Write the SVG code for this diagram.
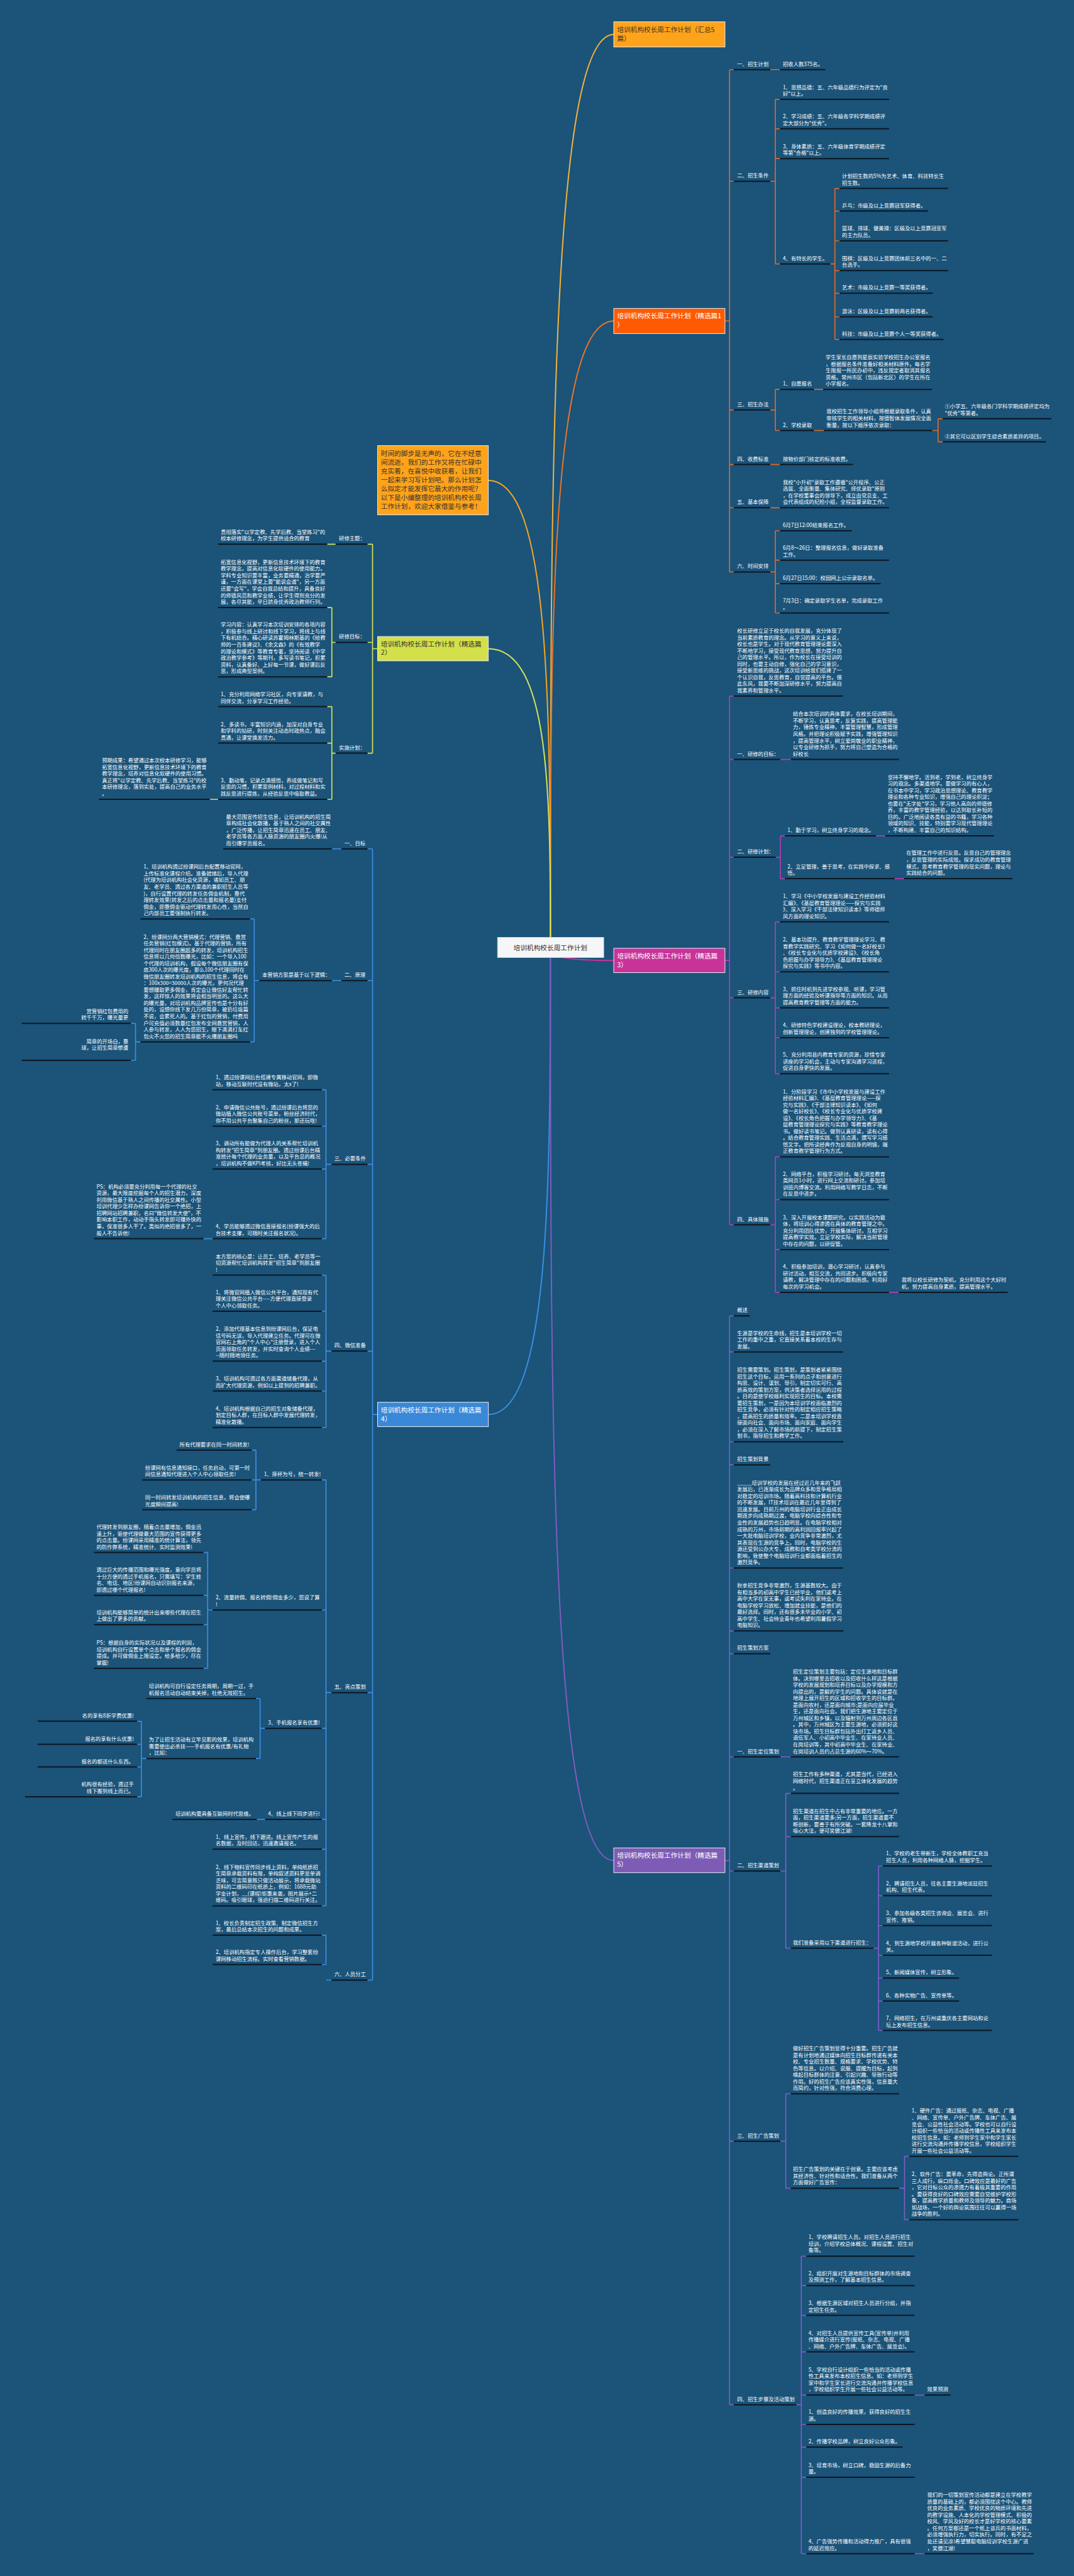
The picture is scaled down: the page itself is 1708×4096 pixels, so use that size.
<svg xmlns="http://www.w3.org/2000/svg" width="1708" height="4096" viewBox="0 0 1708 4096">
<defs><style>
.t{font-family:"Noto Sans CJK SC","Noto Sans",sans-serif;font-size:12.5px;fill:#ffffff}
.n{font-family:"Noto Sans CJK SC","Noto Sans",sans-serif;font-size:16px}
.u{stroke:#0b1722;stroke-width:3;fill:none}
.k{fill:none;stroke-width:2.5}
.m{fill:none;stroke-width:3}
.bx{stroke:#e9eef2;stroke-width:1.5}
</style></defs>
<rect width="1708" height="4096" fill="#1b5379"/>
<g transform="scale(0.66719)">
<g id="connectors">
<path class="m" stroke="#f2b33d" d="M1312 2258C1312 1170 1312 82 1463 82"/>
<path class="m" stroke="#e8742a" d="M1312 2258C1312 1511 1312 765 1463 765"/>
<path class="m" stroke="#f5a623" d="M1312 2258C1312 1701 1312 1145 1164 1145"/>
<path class="m" stroke="#d4e157" d="M1312 2258C1312 1902 1312 1546 1164 1546"/>
<path class="m" stroke="#c8339a" d="M1312 2258C1312 2273 1312 2289 1463 2289"/>
<path class="m" stroke="#3a8ee0" d="M1312 2258C1312 2814 1312 3371 1164 3371"/>
<path class="m" stroke="#7e5cc0" d="M1312 2258C1312 3346 1312 4434 1463 4434"/>
<path class="k" stroke="#e06a28" d="M1728 765H1739M1739 166V1363M1739 166H1749M1739 432H1749M1739 977H1749M1739 1107H1749M1739 1210H1749M1739 1363H1749M1836 166H1859M1836 432H1848M1848 237V629M1848 237H1859M1848 307H1859M1848 378H1859M1848 629H1859M1979 629H1990M1990 449V809M1990 449H2001M1990 503H2001M1990 574H2001M1990 645H2001M1990 699H2001M1990 755H2001M1990 809H2001M1836 977H1848M1848 928V1026M1848 928H1859M1848 1026H1859M1940 928H1962M1940 1026H1964M2222 1026H2236M2236 998V1053M2236 998H2247M2236 1053H2247M1836 1107H1859M1836 1210H1859M1836 1363H1848M1848 1265V1461M1848 1265H1859M1848 1335H1859M1848 1391H1859M1848 1461H1859"/>
<path class="k" stroke="#b23fae" d="M1728 2289H1739M1739 1659V2919M1739 1659H1749M1739 1810H1749M1739 2043H1749M1739 2378H1749M1739 2919H1749M1860 1810H1885M1849 2043H1860M1860 1992V2094M1860 1992H1871M1860 2094H1871M2088 1992H2110M2132 2094H2155M1836 2378H1848M1848 2197V2559M1848 2197H1859M1848 2316H1859M1848 2402H1859M1848 2473H1859M1848 2559H1859M1836 2919H1848M1848 2757V3080M1848 2757H1859M1848 2859H1859M1848 2978H1859M1848 3080H1859M2119 3080H2142"/>
<path class="k" stroke="#7c5fc8" d="M1728 4434H1739M1739 3136V5731M1739 3136H1749M1739 3222H1749M1739 3436H1749M1739 3491H1749M1739 3737H1749M1739 3887H1749M1739 3941H1749M1739 4187H1749M1739 4459H1749M1739 5103H1749M1739 5731H1749M1860 4187H1885M1860 4459H1873M1873 4274V4643M1873 4274H1885M1873 4377H1885M1873 4643H1885M2082 4643H2094M2094 4447V4839M2094 4447H2104M2094 4518H2104M2094 4589H2104M2094 4660H2104M2094 4714H2104M2094 4769H2104M2094 4839H2104M1860 5103H1873M1873 4990V5215M1873 4990H1885M1873 5215H1885M2143 5215H2156M2156 5139V5290M2156 5139H2167M2156 5290H2167M1898 5731H1910M1910 5377V6086M1910 5377H1922M1910 5447H1922M1910 5518H1922M1910 5605H1922M1910 5708H1922M1910 5778H1922M1910 5832H1922M1910 5904H1922M1910 6086H1922M2180 5708H2204M2180 6086H2204"/>
<path class="k" stroke="#d8e55a" d="M900 1546H888M888 1297V1795M888 1297H876M888 1531H876M888 1795H876M800 1297H780M800 1531H791M791 1448V1613M791 1448H780M791 1613H780M800 1795H791M791 1684V1905M791 1684H780M791 1771H780M791 1905H780M520 1905H500"/>
<path class="k" stroke="#3d8ee0" d="M900 3371H888M888 2023V4719M888 2023H876M888 2337H876M888 2775H876M888 3220H876M888 4034H876M888 4719H876M814 2023H791M814 2337H791M618 2337H606M606 2190V2483M606 2190H596M606 2483H596M335 2483H323M323 2439V2527M323 2439H312M323 2527H312M790 2775H777M777 2597V2952M777 2597H767M777 2684H767M777 2786H767M777 2952H767M507 2952H485M790 3220H777M777 3039V3402M777 3039H767M777 3125H767M777 3244H767M777 3315H767M777 3402H767M790 4034H777M777 3527V4542M777 3527H767M777 3837H767M777 4119H767M777 4336H767M777 4407H767M777 4542H767M622 3527H610M610 3456V3598M610 3456H600M610 3527H600M610 3598H600M507 3837H495M495 3700V3976M495 3700H485M495 3802H485M495 3872H485M495 3976H485M632 4119H620M620 4048V4191M620 4048H610M620 4191H610M349 4191H337M337 4102V4282M337 4102H327M337 4157H327M337 4211H327M337 4282H327M632 4336H612M790 4719H777M777 4612V4682M777 4612H767M777 4682H767"/>
</g>

<g id="root"><rect x="1186" y="2234" width="253" height="48" fill="#f5f6f7" stroke="#cfd6dc" stroke-width="1.5"/><text class="n" x="1312" y="2265" font-size="21" fill="#333" text-anchor="middle">培训机构校长周工作计划</text></g>

<g id="sum"><rect class="bx" x="1463" y="52" width="265" height="60" fill="#ffa31a"/><text class="n" x="1471" y="76" fill="#3d3420">培训机构校长周工作计划（汇总5<tspan x="1471" dy="22">篇）</tspan></text></g>

<g id="b1"><rect class="bx" x="1463" y="735" width="265" height="60" fill="#ff5a00"/><text class="n" x="1471" y="759" fill="#fff">培训机构校长周工作计划（精选篇1<tspan x="1471" dy="21">）</tspan></text></g>
<g id="b1-a"><path class="u" d="M1749 166H1836"/><text class="t" x="1757" y="157">一、招生计划</text></g>
<g id="b1-a1"><path class="u" d="M1859 166H1967"/><text class="t" x="1866" y="157">招收人数375名。</text></g>
<g id="b1-b"><path class="u" d="M1749 432H1836"/><text class="t" x="1757" y="423">二、招生条件</text></g>
<g id="b1-b1"><path class="u" d="M1859 237H2119"/><text class="t" x="1866" y="212.2">1、思想品德：五、六年级品德行为评定为"良<tspan x="1866" dy="15.8">好"以上。</tspan></text></g>
<g id="b1-b2"><path class="u" d="M1859 307H2119"/><text class="t" x="1866" y="282.2">2、学习成绩：五、六年级各学科学期成绩评<tspan x="1866" dy="15.8">定大部分为"优秀"。</tspan></text></g>
<g id="b1-b3"><path class="u" d="M1859 378H2119"/><text class="t" x="1866" y="353.2">3、身体素质：五、六年级体育学期成绩评定<tspan x="1866" dy="15.8">等第"合格"以上。</tspan></text></g>
<g id="b1-b4"><path class="u" d="M1859 629H1979"/><text class="t" x="1866" y="620">4、有特长的学生。</text></g>
<g id="b1-b4a"><path class="u" d="M2001 449H2260"/><text class="t" x="2007" y="424.2">计划招生数的5%为艺术、体育、科技特长生<tspan x="2007" dy="15.8">招生数。</tspan></text></g>
<g id="b1-b4b"><path class="u" d="M2001 503H2212"/><text class="t" x="2007" y="494">乒乓：市级及以上竞赛冠军获得者。</text></g>
<g id="b1-b4c"><path class="u" d="M2001 574H2260"/><text class="t" x="2007" y="549.2">篮球、排球、健美操：区级及以上竞赛冠亚军<tspan x="2007" dy="15.8">的主力队员。</tspan></text></g>
<g id="b1-b4d"><path class="u" d="M2001 645H2260"/><text class="t" x="2007" y="620.2">围棋：区级及以上竞赛团体前三名中的一、二<tspan x="2007" dy="15.8">台选手。</tspan></text></g>
<g id="b1-b4e"><path class="u" d="M2001 699H2223"/><text class="t" x="2007" y="690">艺术：市级及以上竞赛一等奖获得者。</text></g>
<g id="b1-b4f"><path class="u" d="M2001 755H2223"/><text class="t" x="2007" y="746">游泳：区级及以上竞赛前两名获得者。</text></g>
<g id="b1-b4g"><path class="u" d="M2001 809H2249"/><text class="t" x="2007" y="800">科技：市级及以上竞赛个人一等奖获得者。</text></g>
<g id="b1-c"><path class="u" d="M1749 977H1836"/><text class="t" x="1757" y="968">三、招生办法</text></g>
<g id="b1-c1"><path class="u" d="M1859 928H1940"/><text class="t" x="1866" y="919">1、自愿报名</text></g>
<g id="b1-c1a"><path class="u" d="M1962 928H2221"/><text class="t" x="1968" y="855.8">学生家长自愿到星辰实验学校招生办公室报名<tspan x="1968" dy="15.8">，根据报名条件准备好相关材料原件。每名学</tspan><tspan x="1968" dy="15.8">生限报一所民办初中，违反规定者取消其报名</tspan><tspan x="1968" dy="15.8">资格。常州市区（包括新北区）的学生在所在</tspan><tspan x="1968" dy="15.8">小学报名。</tspan></text></g>
<g id="b1-c2"><path class="u" d="M1859 1026H1940"/><text class="t" x="1866" y="1017">2、学校录取</text></g>
<g id="b1-c2a"><path class="u" d="M1964 1026H2222"/><text class="t" x="1970" y="985.4">我校招生工作领导小组将根据录取条件，认真<tspan x="1970" dy="15.8">审核学生的相关材料，按德智体发展情况全面</tspan><tspan x="1970" dy="15.8">衡量，按以下顺序依次录取：</tspan></text></g>
<g id="b1-c2a1"><path class="u" d="M2247 998H2506"/><text class="t" x="2252" y="973.2">①小学五、六年级各门学科学期成绩评定均为<tspan x="2252" dy="15.8">"优秀"等第者。</tspan></text></g>
<g id="b1-c2a2"><path class="u" d="M2247 1053H2493"/><text class="t" x="2252" y="1044">②其它可以区别学生综合素质差异的项目。</text></g>
<g id="b1-d"><path class="u" d="M1749 1107H1836"/><text class="t" x="1757" y="1098">四、收费标准</text></g>
<g id="b1-d1"><path class="u" d="M1859 1107H2033"/><text class="t" x="1866" y="1098">按物价部门核定的标准收费。</text></g>
<g id="b1-e"><path class="u" d="M1749 1210H1836"/><text class="t" x="1757" y="1201">五、基本保障</text></g>
<g id="b1-e1"><path class="u" d="M1859 1210H2119"/><text class="t" x="1866" y="1153.6">我校"小升初"录取工作遵循"公开程序、公正<tspan x="1866" dy="15.8">选拔、全面衡量、集体研究、择优录取"原则</tspan><tspan x="1866" dy="15.8">，在学校董事会的领导下，成立由党总支、工</tspan><tspan x="1866" dy="15.8">会代表组成的纪检小组，全程监督录取工作。</tspan></text></g>
<g id="b1-f"><path class="u" d="M1749 1363H1836"/><text class="t" x="1757" y="1354">六、时间安排</text></g>
<g id="b1-f1"><path class="u" d="M1859 1265H2030"/><text class="t" x="1866" y="1256">6月7日12:00结束报名工作。</text></g>
<g id="b1-f2"><path class="u" d="M1859 1335H2119"/><text class="t" x="1866" y="1310.2">6月8～26日：整理报名信息，做好录取准备<tspan x="1866" dy="15.8">工作。</tspan></text></g>
<g id="b1-f3"><path class="u" d="M1859 1391H2099"/><text class="t" x="1866" y="1382">6月27日15:00：校园网上公示录取名单。</text></g>
<g id="b1-f4"><path class="u" d="M1859 1461H2119"/><text class="t" x="1866" y="1436.2">7月3日：确定录取学生名单，完成录取工作<tspan x="1866" dy="15.8">。</tspan></text></g>

<g id="b3"><rect class="bx" x="1463" y="2260" width="265" height="58" fill="#c8339a"/><text class="n" x="1471" y="2284" fill="#fff">培训机构校长周工作计划（精选篇<tspan x="1471" dy="21">3）</tspan></text></g>
<g id="b3-a"><path class="u" d="M1749 1659H2009"/><text class="t" x="1757" y="1507.8">校长研修立足于校长的自我发展，充分体现了<tspan x="1757" dy="15.8">当前素质教育的理念。从学习的意义上来说，</tspan><tspan x="1757" dy="15.8">校长也是学生。对于现代教育管理理论要深入</tspan><tspan x="1757" dy="15.8">不断地学习，接受现代教育思想，努力提升自</tspan><tspan x="1757" dy="15.8">己的管理水平。所以，作为校长在接受培训的</tspan><tspan x="1757" dy="15.8">同时，也要主动自修，强化自己的学习意识，</tspan><tspan x="1757" dy="15.8">接受新思维的挑战，这次培训给我们搭建了一</tspan><tspan x="1757" dy="15.8">个认识自我，反思教育，自觉提高的平台。借</tspan><tspan x="1757" dy="15.8">此东风，我要不断加深研修水平，努力提高自</tspan><tspan x="1757" dy="15.8">我素养和管理水平。</tspan></text></g>
<g id="b3-b"><path class="u" d="M1749 1810H1860"/><text class="t" x="1757" y="1801">一、研修的目标：</text></g>
<g id="b3-b1"><path class="u" d="M1885 1810H2143"/><text class="t" x="1890" y="1706.2">结合本次培训的具体要求，在校长培训期间，<tspan x="1890" dy="15.8">不断学习，认真思考，反复实践，提高管理能</tspan><tspan x="1890" dy="15.8">力，锤炼专业精神，丰富管理智慧，形成管理</tspan><tspan x="1890" dy="15.8">风格。并把理论积极赋予实践，增强管理知识</tspan><tspan x="1890" dy="15.8">，提高管理水平，树立爱岗敬业的职业精神，</tspan><tspan x="1890" dy="15.8">以专业研修为抓手，努力将自己塑造为合格的</tspan><tspan x="1890" dy="15.8">好校长</tspan></text></g>
<g id="b3-c"><path class="u" d="M1749 2043H1849"/><text class="t" x="1757" y="2034">二、研修计划：</text></g>
<g id="b3-c1"><path class="u" d="M1871 1992H2088"/><text class="t" x="1877" y="1983">1、勤于学习，树立终身学习的观念。</text></g>
<g id="b3-c1a"><path class="u" d="M2110 1992H2369"/><text class="t" x="2116" y="1856.6">坚持不懈地学。活到老，学到老，树立终身学<tspan x="2116" dy="15.8">习的观念。多渠道地学。要做学习的有心人，</tspan><tspan x="2116" dy="15.8">在书本中学习，学习政治思想理论、教育教学</tspan><tspan x="2116" dy="15.8">理论和各种专业知识，增强自己的理论积淀；</tspan><tspan x="2116" dy="15.8">也要在"无字处"学习，学习他人高尚的师德修</tspan><tspan x="2116" dy="15.8">养，丰富的教学管理经验，以达到取长补短的</tspan><tspan x="2116" dy="15.8">目的。广泛地阅读各类有益的书籍，学习各种</tspan><tspan x="2116" dy="15.8">领域的知识、技能，特别要学习现代管理理论</tspan><tspan x="2116" dy="15.8">，不断构建、丰富自己的知识结构。</tspan></text></g>
<g id="b3-c2"><path class="u" d="M1871 2094H2132"/><text class="t" x="1877" y="2069.2">2、立足管理，善于思考，在实践中探求、感<tspan x="1877" dy="15.8">悟。</tspan></text></g>
<g id="b3-c2a"><path class="u" d="M2155 2094H2413"/><text class="t" x="2160" y="2037.6">在管理工作中进行反思。反思自己的管理理念<tspan x="2160" dy="15.8">，反思管理的实际成效。探求成功的教育管理</tspan><tspan x="2160" dy="15.8">模式，思考教育教学管理的现实问题，理论与</tspan><tspan x="2160" dy="15.8">实践结合的问题。</tspan></text></g>
<g id="b3-d"><path class="u" d="M1749 2378H1836"/><text class="t" x="1757" y="2369">三、研修内容</text></g>
<g id="b3-d1"><path class="u" d="M1859 2197H2119"/><text class="t" x="1866" y="2140.6">1、学习《中小学校发展与建设工作经验材料<tspan x="1866" dy="15.8">汇编》、《基层教育管理理论——探究与实践</tspan><tspan x="1866" dy="15.8">》、深入学习《干部法律知识读本》等师德师</tspan><tspan x="1866" dy="15.8">风方面的理论知识。</tspan></text></g>
<g id="b3-d2"><path class="u" d="M1859 2316H2119"/><text class="t" x="1866" y="2243.8">2、基本功提升、教育教学管理理论学习、教<tspan x="1866" dy="15.8">育教学实践研究、学习《如何做一名好校长》</tspan><tspan x="1866" dy="15.8">、《校长专业化与优质学校建设》、《校长角</tspan><tspan x="1866" dy="15.8">色把握与办学领导力》、《基层教育管理理论</tspan><tspan x="1866" dy="15.8">探究与实践》等书中内容。</tspan></text></g>
<g id="b3-d3"><path class="u" d="M1859 2402H2119"/><text class="t" x="1866" y="2361.4">3、抓住时机到先进学校参观、听课，学习管<tspan x="1866" dy="15.8">理方面的经验及听课指导等方面的知识。从而</tspan><tspan x="1866" dy="15.8">提高教育教学管理等方面的能力。</tspan></text></g>
<g id="b3-d4"><path class="u" d="M1859 2473H2119"/><text class="t" x="1866" y="2448.2">4、研修特色学校建设理论，校本教研理论，<tspan x="1866" dy="15.8">创新管理理论，创建独到的学校管理理论。</tspan></text></g>
<g id="b3-d5"><path class="u" d="M1859 2559H2119"/><text class="t" x="1866" y="2518.4">5、充分利用县内教育专家的资源，珍惜专家<tspan x="1866" dy="15.8">讲座的学习机会，主动与专家沟通学习进程，</tspan><tspan x="1866" dy="15.8">促进自身更快的发展。</tspan></text></g>
<g id="b3-e"><path class="u" d="M1749 2919H1836"/><text class="t" x="1757" y="2910">四、具体措施</text></g>
<g id="b3-e1"><path class="u" d="M1859 2757H2119"/><text class="t" x="1866" y="2605.8">1、分阶段学习《市中小学校发展与建设工作<tspan x="1866" dy="15.8">经验材料汇编》、《基层教育管理理论——探</tspan><tspan x="1866" dy="15.8">究与实践》、《干部法律知识读本》、《如何</tspan><tspan x="1866" dy="15.8">做一名好校长》、《校长专业化与优质学校建</tspan><tspan x="1866" dy="15.8">设》、《校长角色把握与办学领导力》、《基</tspan><tspan x="1866" dy="15.8">层教育管理理论探究与实践》等教育教学理论</tspan><tspan x="1866" dy="15.8">书。做好读书笔记。做到认真研读，读有心得</tspan><tspan x="1866" dy="15.8">。结合教育管理实践、生活点滴，撰写学习感</tspan><tspan x="1866" dy="15.8">悟文字。把所读经典作为反观自身的明镜，端</tspan><tspan x="1866" dy="15.8">正教育教学管理行为方式。</tspan></text></g>
<g id="b3-e2"><path class="u" d="M1859 2859H2119"/><text class="t" x="1866" y="2802.6">2、网络平台，积极学习研讨。每天浏览教育<tspan x="1866" dy="15.8">类网页1小时，进行网上交流和研讨。参加培</tspan><tspan x="1866" dy="15.8">训班内博客交流。利用网络写教学日志，不断</tspan><tspan x="1866" dy="15.8">在反思中进步。</tspan></text></g>
<g id="b3-e3"><path class="u" d="M1859 2978H2119"/><text class="t" x="1866" y="2905.8">3、深入开展校本课题研究。以实践活动为载<tspan x="1866" dy="15.8">体，将培训心得渗透在具体的教育管理之中。</tspan><tspan x="1866" dy="15.8">充分利用团队优势，开展集体研讨。互相学习</tspan><tspan x="1866" dy="15.8">提高教学实效。立足学校实际，解决当前管理</tspan><tspan x="1866" dy="15.8">中存在的问题，以研促管。</tspan></text></g>
<g id="b3-e4"><path class="u" d="M1859 3080H2119"/><text class="t" x="1866" y="3023.6">4、积极参加培训，潜心学习研讨，认真参与<tspan x="1866" dy="15.8">研讨活动，相互交流，共同进步。积极向专家</tspan><tspan x="1866" dy="15.8">请教，解决管理中存在的问题和困惑。利用好</tspan><tspan x="1866" dy="15.8">每次的学习机会。</tspan></text></g>
<g id="b3-e4a"><path class="u" d="M2142 3080H2402"/><text class="t" x="2149" y="3055.2">我将以校长研修为契机，充分利用这个大好时<tspan x="2149" dy="15.8">机，努力提高自身素质，提高管理水平。</tspan></text></g>

<g id="b5"><rect class="bx" x="1463" y="4404" width="265" height="59" fill="#7e5cb6"/><text class="n" x="1471" y="4428" fill="#fff">培训机构校长周工作计划（精选篇<tspan x="1471" dy="21">5）</tspan></text></g>
<g id="b5-a"><path class="u" d="M1749 3136H1787"/><text class="t" x="1757" y="3127">概述</text></g>
<g id="b5-b"><path class="u" d="M1749 3222H2010"/><text class="t" x="1757" y="3181.4">生源是学校的生命线，招生是本培训学校一切<tspan x="1757" dy="15.8">工作的重中之重，它直接关系着本校的生存与</tspan><tspan x="1757" dy="15.8">发展。</tspan></text></g>
<g id="b5-c"><path class="u" d="M1749 3436H2010"/><text class="t" x="1757" y="3269">招生需要策划。招生策划，是策划者紧紧围绕<tspan x="1757" dy="15.8">招生这个目标，运用一系列的点子和创意进行</tspan><tspan x="1757" dy="15.8">构思、设计、谋划、导引，制定切实可行、高</tspan><tspan x="1757" dy="15.8">质高效的策划方案，供决策者选择运用的过程</tspan><tspan x="1757" dy="15.8">。目的是使学校顺利实现招生的目标。本校需</tspan><tspan x="1757" dy="15.8">要招生策划，一是因为本培训学校面临激烈的</tspan><tspan x="1757" dy="15.8">招生竞争，必须有针对性的制定相应招生策略</tspan><tspan x="1757" dy="15.8">，提高招生的质量和效率。二是本培训学校直</tspan><tspan x="1757" dy="15.8">接面向社会、面向市场、面向家庭、面向学生</tspan><tspan x="1757" dy="15.8">，必须在深入了解市场的前提下，制定招生策</tspan><tspan x="1757" dy="15.8">划书，指导招生和教学工作。</tspan></text></g>
<g id="b5-d"><path class="u" d="M1749 3491H1836"/><text class="t" x="1757" y="3482">招生策划背景</text></g>
<g id="b5-e"><path class="u" d="M1749 3737H2010"/><text class="t" x="1757" y="3538.4">_____培训学校的发展在经过近几年来的飞跃<tspan x="1757" dy="15.8">发展后，已逐渐成长为品牌众多和竞争格局相</tspan><tspan x="1757" dy="15.8">对稳定的培训市场。随着高科技和计算机行业</tspan><tspan x="1757" dy="15.8">的不断发展，IT技术培训在最近几年里得到了</tspan><tspan x="1757" dy="15.8">迅速发展。目前万州的电脑培训行业正由成长</tspan><tspan x="1757" dy="15.8">期逐步向成熟期过渡，电脑学校向综合性和专</tspan><tspan x="1757" dy="15.8">业性的发展趋势也日趋明显。在电脑学校相对</tspan><tspan x="1757" dy="15.8">成熟的万州，市场前期的高利润回报率兴起了</tspan><tspan x="1757" dy="15.8">一大批电脑培训学校，业内竞争非常激烈，尤</tspan><tspan x="1757" dy="15.8">其表现在生源的竞争上。同时，电脑学校的生</tspan><tspan x="1757" dy="15.8">源还受到公办大专、成教和自考类学校分流的</tspan><tspan x="1757" dy="15.8">影响，致使整个电脑培训行业都面临着招生的</tspan><tspan x="1757" dy="15.8">激烈竞争。</tspan></text></g>
<g id="b5-f"><path class="u" d="M1749 3887H2010"/><text class="t" x="1757" y="3783.2">秋季招生竞争非常激烈，生源基数较大。由于<tspan x="1757" dy="15.8">有相当多的初高中学生已经毕业，他们或考上</tspan><tspan x="1757" dy="15.8">高中大学在家无事，或考试失利在家待业。在</tspan><tspan x="1757" dy="15.8">电脑学校学习放松、增加就业技能，是他们的</tspan><tspan x="1757" dy="15.8">最好选择。同时，还有很多未毕业的小学、初</tspan><tspan x="1757" dy="15.8">高中学生、社会待业青年也希望利用暑假学习</tspan><tspan x="1757" dy="15.8">电脑知识。</tspan></text></g>
<g id="b5-g"><path class="u" d="M1749 3941H1836"/><text class="t" x="1757" y="3932">招生策划方案</text></g>
<g id="b5-h"><path class="u" d="M1749 4187H1860"/><text class="t" x="1757" y="4178">一、招生定位策划</text></g>
<g id="b5-h1"><path class="u" d="M1885 4187H2143"/><text class="t" x="1890" y="3988.4">招生定位策划主要包括：定位生源地和目标群<tspan x="1890" dy="15.8">体。决到哪里去招收以及招收什么样这是根据</tspan><tspan x="1890" dy="15.8">学校的发展规划和培养目标以及办学规模和方</tspan><tspan x="1890" dy="15.8">向提出的，是解的学生的问题。具体说就是在</tspan><tspan x="1890" dy="15.8">地理上展开招生的区域和招收学生的目标群。</tspan><tspan x="1890" dy="15.8">是面向农村，还是面向城市;是面向应届毕业</tspan><tspan x="1890" dy="15.8">生，还是面向社会。我们把生源地主要定位于</tspan><tspan x="1890" dy="15.8">万州城区和乡镇，以及辐射到万州周边各区县</tspan><tspan x="1890" dy="15.8">。其中，万州城区为主要生源地，必须抓好这</tspan><tspan x="1890" dy="15.8">块市场。招生目标群包括外出打工返乡人员、</tspan><tspan x="1890" dy="15.8">退伍军人、小初高中毕业生、在家待业人员、</tspan><tspan x="1890" dy="15.8">在岗培训等，其中初高中毕业生、在家待业、</tspan><tspan x="1890" dy="15.8">在岗培训人员约占总生源的60%～70%。</tspan></text></g>
<g id="b5-i"><path class="u" d="M1749 4459H1860"/><text class="t" x="1757" y="4450">二、招生渠道策划</text></g>
<g id="b5-i1"><path class="u" d="M1885 4274H2143"/><text class="t" x="1890" y="4233.4">招生工作有多种渠道，尤其是当代，已经进入<tspan x="1890" dy="15.8">网络时代，招生渠道正在呈立体化发展的趋势</tspan><tspan x="1890" dy="15.8">。</tspan></text></g>
<g id="b5-i2"><path class="u" d="M1885 4377H2143"/><text class="t" x="1890" y="4320.6">招生渠道在招生中占有非常重要的地位。一方<tspan x="1890" dy="15.8">面，招生渠道要多;另一方面，招生渠道要不</tspan><tspan x="1890" dy="15.8">断创新，要善于有所突破。一套降龙十八掌和</tspan><tspan x="1890" dy="15.8">吸心大法，便可笑傲江湖!</tspan></text></g>
<g id="b5-i3"><path class="u" d="M1885 4643H2082"/><text class="t" x="1890" y="4634">我们准备采用以下渠道进行招生：</text></g>
<g id="b5-i3a"><path class="u" d="M2104 4447H2364"/><text class="t" x="2112" y="4422.2">1、学校的老生带新生，学校全体教职工充当<tspan x="2112" dy="15.8">招生人员，利用各种网络人脉，挖掘学生。</tspan></text></g>
<g id="b5-i3b"><path class="u" d="M2104 4518H2364"/><text class="t" x="2112" y="4493.2">2、聘请招生人员，往各主要生源地派驻招生<tspan x="2112" dy="15.8">机构、招生代表。</tspan></text></g>
<g id="b5-i3c"><path class="u" d="M2104 4589H2364"/><text class="t" x="2112" y="4564.2">3、参加各级各类招生咨询会、展览会、进行<tspan x="2112" dy="15.8">宣传、推销。</tspan></text></g>
<g id="b5-i3d"><path class="u" d="M2104 4660H2364"/><text class="t" x="2112" y="4635.2">4、到生源地学校开展各种联谊活动，进行公<tspan x="2112" dy="15.8">关。</tspan></text></g>
<g id="b5-i3e"><path class="u" d="M2104 4714H2286"/><text class="t" x="2112" y="4705">5、新闻媒体宣传，树立形象。</text></g>
<g id="b5-i3f"><path class="u" d="M2104 4769H2286"/><text class="t" x="2112" y="4760">6、各种实物广告、宣传单等。</text></g>
<g id="b5-i3g"><path class="u" d="M2104 4839H2364"/><text class="t" x="2112" y="4814.2">7、网络招生，在万州或重庆各主要网站和论<tspan x="2112" dy="15.8">坛上发布招生信息。</tspan></text></g>
<g id="b5-j"><path class="u" d="M1749 5103H1860"/><text class="t" x="1757" y="5094">三、招生广告策划</text></g>
<g id="b5-j1"><path class="u" d="M1885 4990H2143"/><text class="t" x="1890" y="4886.2">做好招生广告策划显得十分重要。招生广告就<tspan x="1890" dy="15.8">是有计划地通过媒体向招生目标群传递有关本</tspan><tspan x="1890" dy="15.8">校、专业招生数量、规格要求、学校优势、特</tspan><tspan x="1890" dy="15.8">色等信息。以介绍、说服、提醒为目标，起到</tspan><tspan x="1890" dy="15.8">唤起目标群体的注意、引起兴趣、导致行动等</tspan><tspan x="1890" dy="15.8">作用。好的招生广告应该真实性强，信息量大</tspan><tspan x="1890" dy="15.8">而简约，针对性强，符合消费心理。</tspan></text></g>
<g id="b5-j2"><path class="u" d="M1885 5215H2143"/><text class="t" x="1890" y="5174.4">招生广告策划的关键在于创意。主要应该考虑<tspan x="1890" dy="15.8">其经济性、针对性和适合性。我们准备从两个</tspan><tspan x="1890" dy="15.8">方面做好广告宣传：</tspan></text></g>
<g id="b5-j2a"><path class="u" d="M2167 5139H2427"/><text class="t" x="2173" y="5035.2">1、硬件广告：通过报纸、杂志、电视、广播<tspan x="2173" dy="15.8">、网络、宣传单、户外广告牌、车体广告、展</tspan><tspan x="2173" dy="15.8">览会、公益性社会活动等。学校也可以自行设</tspan><tspan x="2173" dy="15.8">计组织一些恰当的活动或传播性工具来发布本</tspan><tspan x="2173" dy="15.8">校招生信息。如：老师到学生家中和学生家长</tspan><tspan x="2173" dy="15.8">进行交流沟通并传播学校信息，学校组织学生</tspan><tspan x="2173" dy="15.8">开展一些社会公益活动等。</tspan></text></g>
<g id="b5-j2b"><path class="u" d="M2167 5290H2427"/><text class="t" x="2173" y="5186.2">2、软件广告：要革命，先得造舆论。正所谓<tspan x="2173" dy="15.8">三人成行，纵口烁金。口碑效应是最好的广告</tspan><tspan x="2173" dy="15.8">，它对目标公众的渗透力有着极其重要的作用</tspan><tspan x="2173" dy="15.8">。要获得良好的口碑效应需要自觉维护学校形</tspan><tspan x="2173" dy="15.8">象，提高教学质量和教师及领导的魅力。商场</tspan><tspan x="2173" dy="15.8">如战场，一个好的舆论氛围往往可以赢得一场</tspan><tspan x="2173" dy="15.8">战争的胜利。</tspan></text></g>
<g id="b5-k"><path class="u" d="M1749 5731H1898"/><text class="t" x="1757" y="5722">四、招生步骤及活动策划</text></g>
<g id="b5-k1"><path class="u" d="M1922 5377H2180"/><text class="t" x="1927" y="5336.4">1、学校聘请招生人员。对招生人员进行招生<tspan x="1927" dy="15.8">培训，介绍学校总体概况、课程设置、招生对</tspan><tspan x="1927" dy="15.8">象等。</tspan></text></g>
<g id="b5-k2"><path class="u" d="M1922 5447H2180"/><text class="t" x="1927" y="5422.2">2、组织开展对生源地和目标群体的市场调查<tspan x="1927" dy="15.8">及预测工作，了解基本招生信息。</tspan></text></g>
<g id="b5-k3"><path class="u" d="M1922 5518H2180"/><text class="t" x="1927" y="5493.2">3、根据生源区域对招生人员进行分组，并指<tspan x="1927" dy="15.8">定招生任务。</tspan></text></g>
<g id="b5-k4"><path class="u" d="M1922 5605H2180"/><text class="t" x="1927" y="5564.4">4、对招生人员提供宣传工具(宣传单)并利用<tspan x="1927" dy="15.8">传播媒介进行宣传(报纸、杂志、电视、广播</tspan><tspan x="1927" dy="15.8">、网络、户外广告牌、车体广告、展览会)。</tspan></text></g>
<g id="b5-k5"><path class="u" d="M1922 5708H2180"/><text class="t" x="1927" y="5651.6">5、学校自行设计组织一些恰当的活动或传播<tspan x="1927" dy="15.8">性工具来发布本校招生信息。如：老师到学生</tspan><tspan x="1927" dy="15.8">家中和学生家长进行交流沟通并传播学校信息</tspan><tspan x="1927" dy="15.8">，学校组织学生开展一些社会公益活动等。</tspan></text></g>
<g id="b5-k5a"><path class="u" d="M2204 5708H2266"/><text class="t" x="2210" y="5699">效果预测</text></g>
<g id="b5-k6"><path class="u" d="M1922 5778H2180"/><text class="t" x="1927" y="5753.2">1、创造良好的传播效果，获得良好的招生生<tspan x="1927" dy="15.8">源。</tspan></text></g>
<g id="b5-k7"><path class="u" d="M1922 5832H2151"/><text class="t" x="1927" y="5823">2、传播学校品牌，树立良好公众形象。</text></g>
<g id="b5-k8"><path class="u" d="M1922 5904H2180"/><text class="t" x="1927" y="5879.2">3、培育市场，树立口碑，稳固生源的后备力<tspan x="1927" dy="15.8">量。</tspan></text></g>
<g id="b5-k9"><path class="u" d="M1922 6086H2180"/><text class="t" x="1927" y="6061.2">4、广告强势传播和活动得力推广，具有很强<tspan x="1927" dy="15.8">的延迟效应。</tspan></text></g>
<g id="b5-k9a"><path class="u" d="M2204 6086H2464"/><text class="t" x="2210" y="5950.6">我们的一切策划宣传活动都是建立在学校教学<tspan x="2210" dy="15.8">质量的基础上的，都必须围绕这个中心。教师</tspan><tspan x="2210" dy="15.8">优良的业务素质、学校优良的物质环境和先进</tspan><tspan x="2210" dy="15.8">的教学设施、人本化的学校管理模式、积极的</tspan><tspan x="2210" dy="15.8">校风、学风及好的校长才是好学校的核心要素</tspan><tspan x="2210" dy="15.8">。任何方案都还是一个纸上谈兵的书面材料，</tspan><tspan x="2210" dy="15.8">必须增强执行力，切实执行。同时，有不足之</tspan><tspan x="2210" dy="15.8">处还请见凉!希望慧聪电脑培训学校生源广进</tspan><tspan x="2210" dy="15.8">，笑傲江湖!</tspan></text></g>

<g id="intro"><rect class="bx" x="900" y="1062" width="264" height="165" fill="#ffa31a"/><text class="n" x="908" y="1086" fill="#333">时间的脚步是无声的，它在不经意<tspan x="908" dy="21.2">间流逝，我们的工作又将在忙碌中</tspan><tspan x="908" dy="21.2">充实着，在喜悦中收获着，让我们</tspan><tspan x="908" dy="21.2">一起来学习写计划吧。那么计划怎</tspan><tspan x="908" dy="21.2">么拟定才能发挥它最大的作用呢？</tspan><tspan x="908" dy="21.2">以下是小编整理的培训机构校长周</tspan><tspan x="908" dy="21.2">工作计划，欢迎大家借鉴与参考！</tspan></text></g>

<g id="b2"><rect class="bx" x="900" y="1517" width="264" height="58" fill="#d4e04a"/><text class="n" x="908" y="1541" fill="#333">培训机构校长周工作计划（精选篇<tspan x="908" dy="20">2）</tspan></text></g>
<g id="b2-a"><path class="u" d="M800 1297H876"/><text class="t" x="808" y="1288">研修主题：</text></g>
<g id="b2-a1"><path class="u" d="M520 1297H780"/><text class="t" x="526" y="1272.2">贯彻落实"以学定教、先学后教、当堂练习"的<tspan x="526" dy="15.8">校本研修理念，为学生提供适合的教育</tspan></text></g>
<g id="b2-b"><path class="u" d="M800 1531H876"/><text class="t" x="808" y="1522">研修目标：</text></g>
<g id="b2-b1"><path class="u" d="M520 1448H780"/><text class="t" x="526" y="1344.2">拓宽信息化视野，更新信息技术环境下的教育<tspan x="526" dy="15.8">教学理念，提高对信息化软硬件的使用能力。</tspan><tspan x="526" dy="15.8">学科专业知识要丰富，业务要精通，治学要严</tspan><tspan x="526" dy="15.8">谨，一方面在课堂上要"能说会道"，另一方面</tspan><tspan x="526" dy="15.8">还要"会写"，学会自我总结和提升，具备良好</tspan><tspan x="526" dy="15.8">的师德风范和教学业绩，让学生得到充分的发</tspan><tspan x="526" dy="15.8">展，各尽其能，早日跻身优秀政治教师行列。</tspan></text></g>
<g id="b2-b2"><path class="u" d="M520 1613H780"/><text class="t" x="526" y="1493.4">学习内容：认真学习本次培训安排的各项内容<tspan x="526" dy="15.8">，积极参与线上研讨和线下学习，将线上与线</tspan><tspan x="526" dy="15.8">下有机结合。精心研读苏霍姆林斯基的《给教</tspan><tspan x="526" dy="15.8">师的一百条建议》、《余文森》的《有效教学</tspan><tspan x="526" dy="15.8">的理论和模式》等教育专著，坚持阅读《中学</tspan><tspan x="526" dy="15.8">政治教学参考》等期刊，多写读书笔记，积累</tspan><tspan x="526" dy="15.8">资料，认真备好、上好每一节课，做好课后反</tspan><tspan x="526" dy="15.8">思，形成典型案例。</tspan></text></g>
<g id="b2-c"><path class="u" d="M800 1795H876"/><text class="t" x="808" y="1786">实施计划：</text></g>
<g id="b2-c1"><path class="u" d="M520 1684H780"/><text class="t" x="526" y="1659.2">1、充分利用网络学习社区，向专家请教，与<tspan x="526" dy="15.8">同伴交流，分享学习工作经验。</tspan></text></g>
<g id="b2-c2"><path class="u" d="M520 1771H780"/><text class="t" x="526" y="1730.4">2、多读书，丰富知识内涵，加深对自身专业<tspan x="526" dy="15.8">和学科的钻研，时刻关注动态时政热点，融会</tspan><tspan x="526" dy="15.8">贯通，让课堂焕发活力。</tspan></text></g>
<g id="b2-c3"><path class="u" d="M520 1905H780"/><text class="t" x="526" y="1864.4">3、勤动笔，记录点滴感悟，养成做笔记和写<tspan x="526" dy="15.8">反思的习惯，积累案例材料，对过程材料和实</tspan><tspan x="526" dy="15.8">践反思进行提炼，从经验反思中吸取教益。</tspan></text></g>
<g id="b2-c3a"><path class="u" d="M236 1905H500"/><text class="t" x="243" y="1817">预期成果：希望通过本次校本研修学习，能够<tspan x="243" dy="15.8">拓宽信息化视野，更新信息技术环境下的教育</tspan><tspan x="243" dy="15.8">教学理念，培养对信息化软硬件的使用习惯。</tspan><tspan x="243" dy="15.8">真正将"以学定教、先学后教、当堂练习"的校</tspan><tspan x="243" dy="15.8">本研修理念，落到实处，提高自己的业务水平</tspan><tspan x="243" dy="15.8">。</tspan></text></g>

<g id="b4"><rect class="bx" x="900" y="3342" width="264" height="58" fill="#3a88d8"/><text class="n" x="908" y="3366" fill="#fff">培训机构校长周工作计划（精选篇<tspan x="908" dy="21">4）</tspan></text></g>
<g id="b4-a"><path class="u" d="M814 2023H876"/><text class="t" x="821" y="2014">一、目标</text></g>
<g id="b4-a1"><path class="u" d="M532 2023H791"/><text class="t" x="539" y="1950.8">最大范围宣传招生信息，让培训机构的招生简<tspan x="539" dy="15.8">章构成社会化散播，基于熟人之间的社交属性</tspan><tspan x="539" dy="15.8">，广泛传播，让招生简章迅速在员工、朋友、</tspan><tspan x="539" dy="15.8">老学员等各方面人脉资源的朋友圈内火爆!从</tspan><tspan x="539" dy="15.8">而引爆学员报名。</tspan></text></g>
<g id="b4-b"><path class="u" d="M814 2337H876"/><text class="t" x="821" y="2328">二、原理</text></g>
<g id="b4-b0"><path class="u" d="M618 2337H791"/><text class="t" x="625" y="2328">本营销方案是基于以下逻辑：</text></g>
<g id="b4-b1"><path class="u" d="M335 2190H596"/><text class="t" x="342" y="2070.4">1、培训机构透过纷课网后台配置移动官网，<tspan x="342" dy="15.8">上传标准化课程介绍。准备就绪后，导入代理</tspan><tspan x="342" dy="15.8">(代理为培训机构社会化资源，诸如员工、朋</tspan><tspan x="342" dy="15.8">友、老学员、透过各方渠道的兼职招生人员等</tspan><tspan x="342" dy="15.8">)，自行设置代理的转发任务佣金机制，靠代</tspan><tspan x="342" dy="15.8">理转发效果(转发之后的点击量和报名量)支付</tspan><tspan x="342" dy="15.8">佣金，即靠佣金驱动代理转发用心性，当然自</tspan><tspan x="342" dy="15.8">己内部员工要强制执行转发。</tspan></text></g>
<g id="b4-b2"><path class="u" d="M335 2483H596"/><text class="t" x="342" y="2237">2、纷课网分两大营销模式：代理营销、悬赏<tspan x="342" dy="15.8">任务营销(红包模式)。基于代理的营销，所有</tspan><tspan x="342" dy="15.8">代理同时在朋友圈超多的转发，培训机构招生</tspan><tspan x="342" dy="15.8">信息将以几何倍数曝光，比如：一个导入100</tspan><tspan x="342" dy="15.8">个代理的培训机构，假设每个微信朋友圈有保</tspan><tspan x="342" dy="15.8">底300人次的曝光度，那么100个代理同时在</tspan><tspan x="342" dy="15.8">微信朋友圈转发培训机构的招生信息，将会有</tspan><tspan x="342" dy="15.8">：100x300=30000人次的曝光，更何况代理</tspan><tspan x="342" dy="15.8">要想赚取更多佣金，肯定会让微信好友帮忙转</tspan><tspan x="342" dy="15.8">发，这样惊人的效果将会相当明显的。这么大</tspan><tspan x="342" dy="15.8">的曝光量，对培训机构品牌宣传也是十分有好</tspan><tspan x="342" dy="15.8">处的，设想你线下发几万份简章，被扔垃圾篇</tspan><tspan x="342" dy="15.8">不说，会累死人的。基于红包的营销，付费用</tspan><tspan x="342" dy="15.8">户可充值必须数量红包发布全网悬赏营销，人</tspan><tspan x="342" dy="15.8">人参与转发，人人为您招生，眼下滴滴打车红</tspan><tspan x="342" dy="15.8">包火不火您的招生简章能不火爆朋友圈吗</tspan></text></g>
<g id="b4-b2a"><path class="u" d="M52 2439H312"/><text class="t" x="306" y="2414.2" text-anchor="end">赏营销红包费用的<tspan x="306" dy="15.8" text-anchor="end">转千千万，曝光量更</tspan></text></g>
<g id="b4-b2b"><path class="u" d="M52 2527H312"/><text class="t" x="306" y="2486.4" text-anchor="end">简章的开场白，靠<tspan x="306" dy="15.8" text-anchor="end">球，让招生简章惨遭</tspan></text></g>
<g id="b4-c"><path class="u" d="M790 2775H876"/><text class="t" x="797" y="2766">三、必要条件</text></g>
<g id="b4-c1"><path class="u" d="M507 2597H767"/><text class="t" x="514" y="2572.2">1、透过纷课网后台搭建专属移动官网，即微<tspan x="514" dy="15.8">站，移动互联时代没有微站，太x了!</tspan></text></g>
<g id="b4-c2"><path class="u" d="M507 2684H767"/><text class="t" x="514" y="2643.4">2、申请微信公共账号，透过纷课后台将您的<tspan x="514" dy="15.8">微站植入微信公共账号菜单，粉丝经济时代，</tspan><tspan x="514" dy="15.8">你不用公共平台聚集自己的粉丝，那还玩啥!</tspan></text></g>
<g id="b4-c3"><path class="u" d="M507 2786H767"/><text class="t" x="514" y="2729.6">3、调动所有能做为代理人的关系帮忙培训机<tspan x="514" dy="15.8">构转发"招生简章"到朋友圈。透过纷课后台精</tspan><tspan x="514" dy="15.8">准统计每个代理的业务量，以及平台总的概况</tspan><tspan x="514" dy="15.8">，培训机构不做KPI考核，好比无头苍蝇!</tspan></text></g>
<g id="b4-c4"><path class="u" d="M507 2952H767"/><text class="t" x="514" y="2927.2">4、学员能够透过微信直接报名(纷课强大的后<tspan x="514" dy="15.8">台技术支撑，可随时关注报名状况)。</tspan></text></g>
<g id="b4-c4a"><path class="u" d="M224 2952H485"/><text class="t" x="230" y="2832.4">PS：机构必须要充分利用每一个代理的社交<tspan x="230" dy="15.8">资源，最大限度挖掘每个人的招生潜力，深度</tspan><tspan x="230" dy="15.8">利用微信基于熟人之间传播的社交属性。小型</tspan><tspan x="230" dy="15.8">培训代理少怎样办纷课网告诉你一个绝招，上</tspan><tspan x="230" dy="15.8">招聘网站招聘兼职，名曰"微信转发大使"，不</tspan><tspan x="230" dy="15.8">影响本职工作，动动手指头转发即可赚外快的</tspan><tspan x="230" dy="15.8">事，保准很多人干了。类似的绝招很多了，一</tspan><tspan x="230" dy="15.8">般人不告诉他!</tspan></text></g>
<g id="b4-d"><path class="u" d="M790 3220H876"/><text class="t" x="797" y="3211">四、微信准备</text></g>
<g id="b4-d1"><path class="u" d="M507 3039H767"/><text class="t" x="514" y="2998.4">本方案的核心是：让员工、培养、老学员等一<tspan x="514" dy="15.8">切资源帮忙培训机构转发"招生简章"到朋友圈</tspan><tspan x="514" dy="15.8">!</tspan></text></g>
<g id="b4-d2"><path class="u" d="M507 3125H767"/><text class="t" x="514" y="3084.4">1、将微官网植入微信公共平台，通知现有代<tspan x="514" dy="15.8">理关注微信公共平台----方便代理直接登录</tspan><tspan x="514" dy="15.8">个人中心领取任务。</tspan></text></g>
<g id="b4-d3"><path class="u" d="M507 3244H767"/><text class="t" x="514" y="3171.8">2、添加代理基本信息到纷课网后台，保证电<tspan x="514" dy="15.8">话号码无误，导入代理建立任务。代理可在微</tspan><tspan x="514" dy="15.8">官网右上角的"个人中心"注册登录，进入个人</tspan><tspan x="514" dy="15.8">页面领取任务转发，并实时查询个人业绩---</tspan><tspan x="514" dy="15.8">--随时随地领任务。</tspan></text></g>
<g id="b4-d4"><path class="u" d="M507 3315H767"/><text class="t" x="514" y="3290.2">3、培训机构可透过各方面渠道储备代理，从<tspan x="514" dy="15.8">而扩大代理资源，例如以上提到的招聘兼职。</tspan></text></g>
<g id="b4-d5"><path class="u" d="M507 3402H767"/><text class="t" x="514" y="3361.4">4、培训机构根据自己的招生对象储备代理，<tspan x="514" dy="15.8">划定目标人群，在目标人群中发展代理转发，</tspan><tspan x="514" dy="15.8">精准化散播。</tspan></text></g>
<g id="b4-e"><path class="u" d="M790 4034H876"/><text class="t" x="797" y="4025">五、亮点策划</text></g>
<g id="b4-e1"><path class="u" d="M622 3527H767"/><text class="t" x="629" y="3518">1、摔杯为号，统一转发!</text></g>
<g id="b4-e1a"><path class="u" d="M421 3456H600"/><text class="t" x="428" y="3447">所有代理要求在同一时间转发!</text></g>
<g id="b4-e1b"><path class="u" d="M339 3527H600"/><text class="t" x="346" y="3502.2">纷课网有信息通知接口，任务启动，可第一时<tspan x="346" dy="15.8">间信息通知代理进入个人中心领取任务!</tspan></text></g>
<g id="b4-e1c"><path class="u" d="M339 3598H600"/><text class="t" x="346" y="3573.2">同一时间转发培训机构的招生信息，将会使曝<tspan x="346" dy="15.8">光度瞬间提高!</tspan></text></g>
<g id="b4-e2"><path class="u" d="M507 3837H767"/><text class="t" x="514" y="3812.2">2、流量转佣、报名转佣!佣金多少，您说了算<tspan x="514" dy="15.8">!</tspan></text></g>
<g id="b4-e2a"><path class="u" d="M224 3700H485"/><text class="t" x="230" y="3643.6">代理转发到朋友圈，随着点击量增加，佣金迅<tspan x="230" dy="15.8">速上升，驱使代理做最大范围的宣传获得更多</tspan><tspan x="230" dy="15.8">的点击量。纷课网采用精准的统计算法，领先</tspan><tspan x="230" dy="15.8">的防作弊系统，精准统计、实时监测效果!</tspan></text></g>
<g id="b4-e2b"><path class="u" d="M224 3802H485"/><text class="t" x="230" y="3745.6">透过巨大的传播范围和曝光强度，意向学员将<tspan x="230" dy="15.8">十分方便的透过手机报名，只需填写：学生姓</tspan><tspan x="230" dy="15.8">名、电话、地区!纷课网自动识别报名来源，</tspan><tspan x="230" dy="15.8">即透过哪个代理报名!</tspan></text></g>
<g id="b4-e2c"><path class="u" d="M224 3872H485"/><text class="t" x="230" y="3847.2">培训机构能够简单的统计出来哪些代理在招生<tspan x="230" dy="15.8">上做出了更多的贡献。</tspan></text></g>
<g id="b4-e2d"><path class="u" d="M224 3976H485"/><text class="t" x="230" y="3919.6">PS：根据自身的实际状况以及课程的利润，<tspan x="230" dy="15.8">培训机构自行设置单个点击和单个报名的佣金</tspan><tspan x="230" dy="15.8">提成。并可做佣金上限设定。给多给少，尽在</tspan><tspan x="230" dy="15.8">掌握!</tspan></text></g>
<g id="b4-e3"><path class="u" d="M632 4119H767"/><text class="t" x="639" y="4110">3、手机报名享有优惠!</text></g>
<g id="b4-e3a"><path class="u" d="M349 4048H610"/><text class="t" x="355" y="4023.2">培训机构可自行设定任务周期，周期一过，手<tspan x="355" dy="15.8">机报名活动自动结束关掉，杜绝无效招生。</tspan></text></g>
<g id="b4-e3b"><path class="u" d="M349 4191H610"/><text class="t" x="355" y="4150.4">为了让招生活动有立竿见影的效果，培训机构<tspan x="355" dy="15.8">需要使出必杀技——手机报名有优惠/有礼物</tspan><tspan x="355" dy="15.8">，比如：</tspan></text></g>
<g id="b4-e3b1"><path class="u" d="M90 4102H327"/><text class="t" x="319" y="4093" text-anchor="end">名的享有8折学费优惠!</text></g>
<g id="b4-e3b2"><path class="u" d="M90 4157H327"/><text class="t" x="319" y="4148" text-anchor="end">报名的享有什么优惠!</text></g>
<g id="b4-e3b3"><path class="u" d="M90 4211H327"/><text class="t" x="319" y="4202" text-anchor="end">报名的都送什么东西。</text></g>
<g id="b4-e3b4"><path class="u" d="M60 4282H327"/><text class="t" x="319" y="4257.2" text-anchor="end">机构很有经验，透过手<tspan x="319" dy="15.8" text-anchor="end">线下搬到线上而已。</tspan></text></g>
<g id="b4-e4"><path class="u" d="M632 4336H767"/><text class="t" x="639" y="4327">4、线上线下同步进行!</text></g>
<g id="b4-e4a"><path class="u" d="M411 4336H612"/><text class="t" x="418" y="4327">培训机构要具备互联网时代思维。</text></g>
<g id="b4-e5"><path class="u" d="M507 4407H767"/><text class="t" x="514" y="4382.2">1、线上宣传，线下跟进。线上宣传产生的报<tspan x="514" dy="15.8">名数据，及时回访，迅速邀请报名。</tspan></text></g>
<g id="b4-e6"><path class="u" d="M507 4542H767"/><text class="t" x="514" y="4454">2、线下物料宣传同步线上资料，单纯纸质招<tspan x="514" dy="15.8">生简章承载资料有限，单纯叙述资料更显单调</tspan><tspan x="514" dy="15.8">乏味，可言简意赅只做活动展示，将承载微站</tspan><tspan x="514" dy="15.8">资料的二维码印在纸质上，例如：1688元助</tspan><tspan x="514" dy="15.8">学金计划，__(课程)钜惠来袭，图片展示+二</tspan><tspan x="514" dy="15.8">维码。吸引眼球，强迫扫描二维码进行关注。</tspan></text></g>
<g id="b4-f"><path class="u" d="M790 4719H876"/><text class="t" x="797" y="4710">六、人员分工</text></g>
<g id="b4-f1"><path class="u" d="M507 4612H767"/><text class="t" x="514" y="4587.2">1、校长负责制定招生政策、制定微信招生方<tspan x="514" dy="15.8">案，最后总结本次招生的问题和成果。</tspan></text></g>
<g id="b4-f2"><path class="u" d="M507 4682H767"/><text class="t" x="514" y="4657.2">2、培训机构指定专人操作后台，学习整套纷<tspan x="514" dy="15.8">课网移动招生流程。实时查看营销数据。</tspan></text></g>
</g>
</svg>
